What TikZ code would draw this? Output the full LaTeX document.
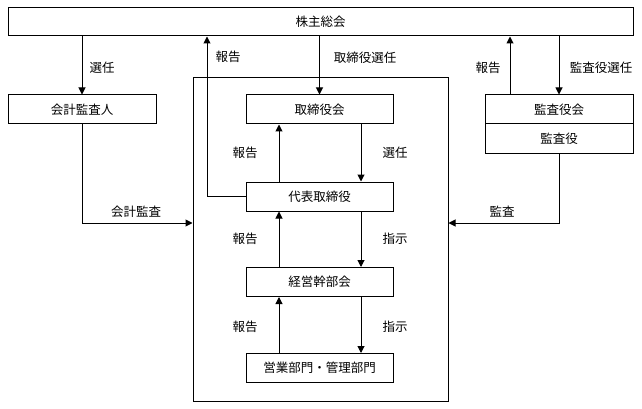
\documentclass[tikz,border=0pt]{standalone}
\usepackage{fontspec}
\setmainfont{Noto Sans CJK JP}
\usetikzlibrary{arrows.meta}
\begin{document}
\begin{tikzpicture}[x=1pt,y=-1pt, line width=1pt,
  box/.style={draw, line width=1pt, minimum height=29pt, inner sep=0pt, fill=white, font=\fontsize{12.5}{14}\selectfont},
  arr/.style={-{Triangle[length=7pt,width=7pt]}},
  lbl/.style={inner sep=0pt, font=\fontsize{12.5}{14}\selectfont}]
\useasboundingbox (0,0) rectangle (642,409);
% outer frame
\node[draw, line width=1pt, minimum width=255pt, minimum height=324pt, inner sep=0pt] (big) at (320.5,239.5) {};
% boxes
\node[box, minimum width=625pt, minimum height=28pt] (sh) at (320.5,22) {株主総会};
\node[box, minimum width=148pt] (kaikei) at (82,109.5) {会計監査人};
\node[box, minimum width=147pt] (tori) at (319.5,109.5) {取締役会};
\node[box, minimum width=147pt] (daihyo) at (319.5,196.5) {代表取締役};
\node[box, minimum width=147pt] (keiei) at (319.5,282) {経営幹部会};
\node[box, minimum width=147pt] (eigyo) at (319.5,368) {営業部門・管理部門};
\node[box, minimum width=148pt] (kansa) at (559,109.5) {監査役会};
\node[box, minimum width=148pt] (kansayaku) at (559,138.5) {監査役};
% coordinates
\coordinate (up1) at (207,0);
\coordinate (lx) at (279,0);
\coordinate (rx) at (361,0);
\coordinate (ka) at (510,0);
\coordinate (audy) at (0,223);
% connectors
\draw[arr] (sh.south -| kaikei) -- (kaikei.north);
\draw[arr] (daihyo.west) -| (sh.south -| up1);
\draw[arr] (sh.south -| tori) -- (tori.north);
\draw[arr] (kansa.north -| ka) -- (sh.south -| ka);
\draw[arr] (sh.south -| kansa) -- (kansa.north);
\draw[arr] (daihyo.north -| lx) -- (tori.south -| lx);
\draw[arr] (tori.south -| rx) -- (daihyo.north -| rx);
\draw[arr] (keiei.north -| lx) -- (daihyo.south -| lx);
\draw[arr] (daihyo.south -| rx) -- (keiei.north -| rx);
\draw[arr] (eigyo.north -| lx) -- (keiei.south -| lx);
\draw[arr] (keiei.south -| rx) -- (eigyo.north -| rx);
\draw[arr] (kaikei.south) |- (big.west |- audy);
\draw[arr] (kansayaku.south) |- (big.east |- audy);
% labels
\node[lbl] (l1) at (102,68) {選任};
\node[lbl] (l2) at (228,57) {報告};
\node[lbl] (l3) at (365,58) {取締役選任};
\node[lbl] (l4) at (488,68) {報告};
\node[lbl] (l5) at (601,68) {監査役選任};
\node[lbl] (l6) at (245,153) {報告};
\node[lbl] (l7) at (395,153) {選任};
\node[lbl] (l8) at (245,239) {報告};
\node[lbl] (l9) at (395,239) {指示};
\node[lbl] (l10) at (245,327) {報告};
\node[lbl] (l11) at (395,327) {指示};
\node[lbl] (l12) at (136,212) {会計監査};
\node[lbl] (l13) at (502,212) {監査};
\end{tikzpicture}
\end{document}
